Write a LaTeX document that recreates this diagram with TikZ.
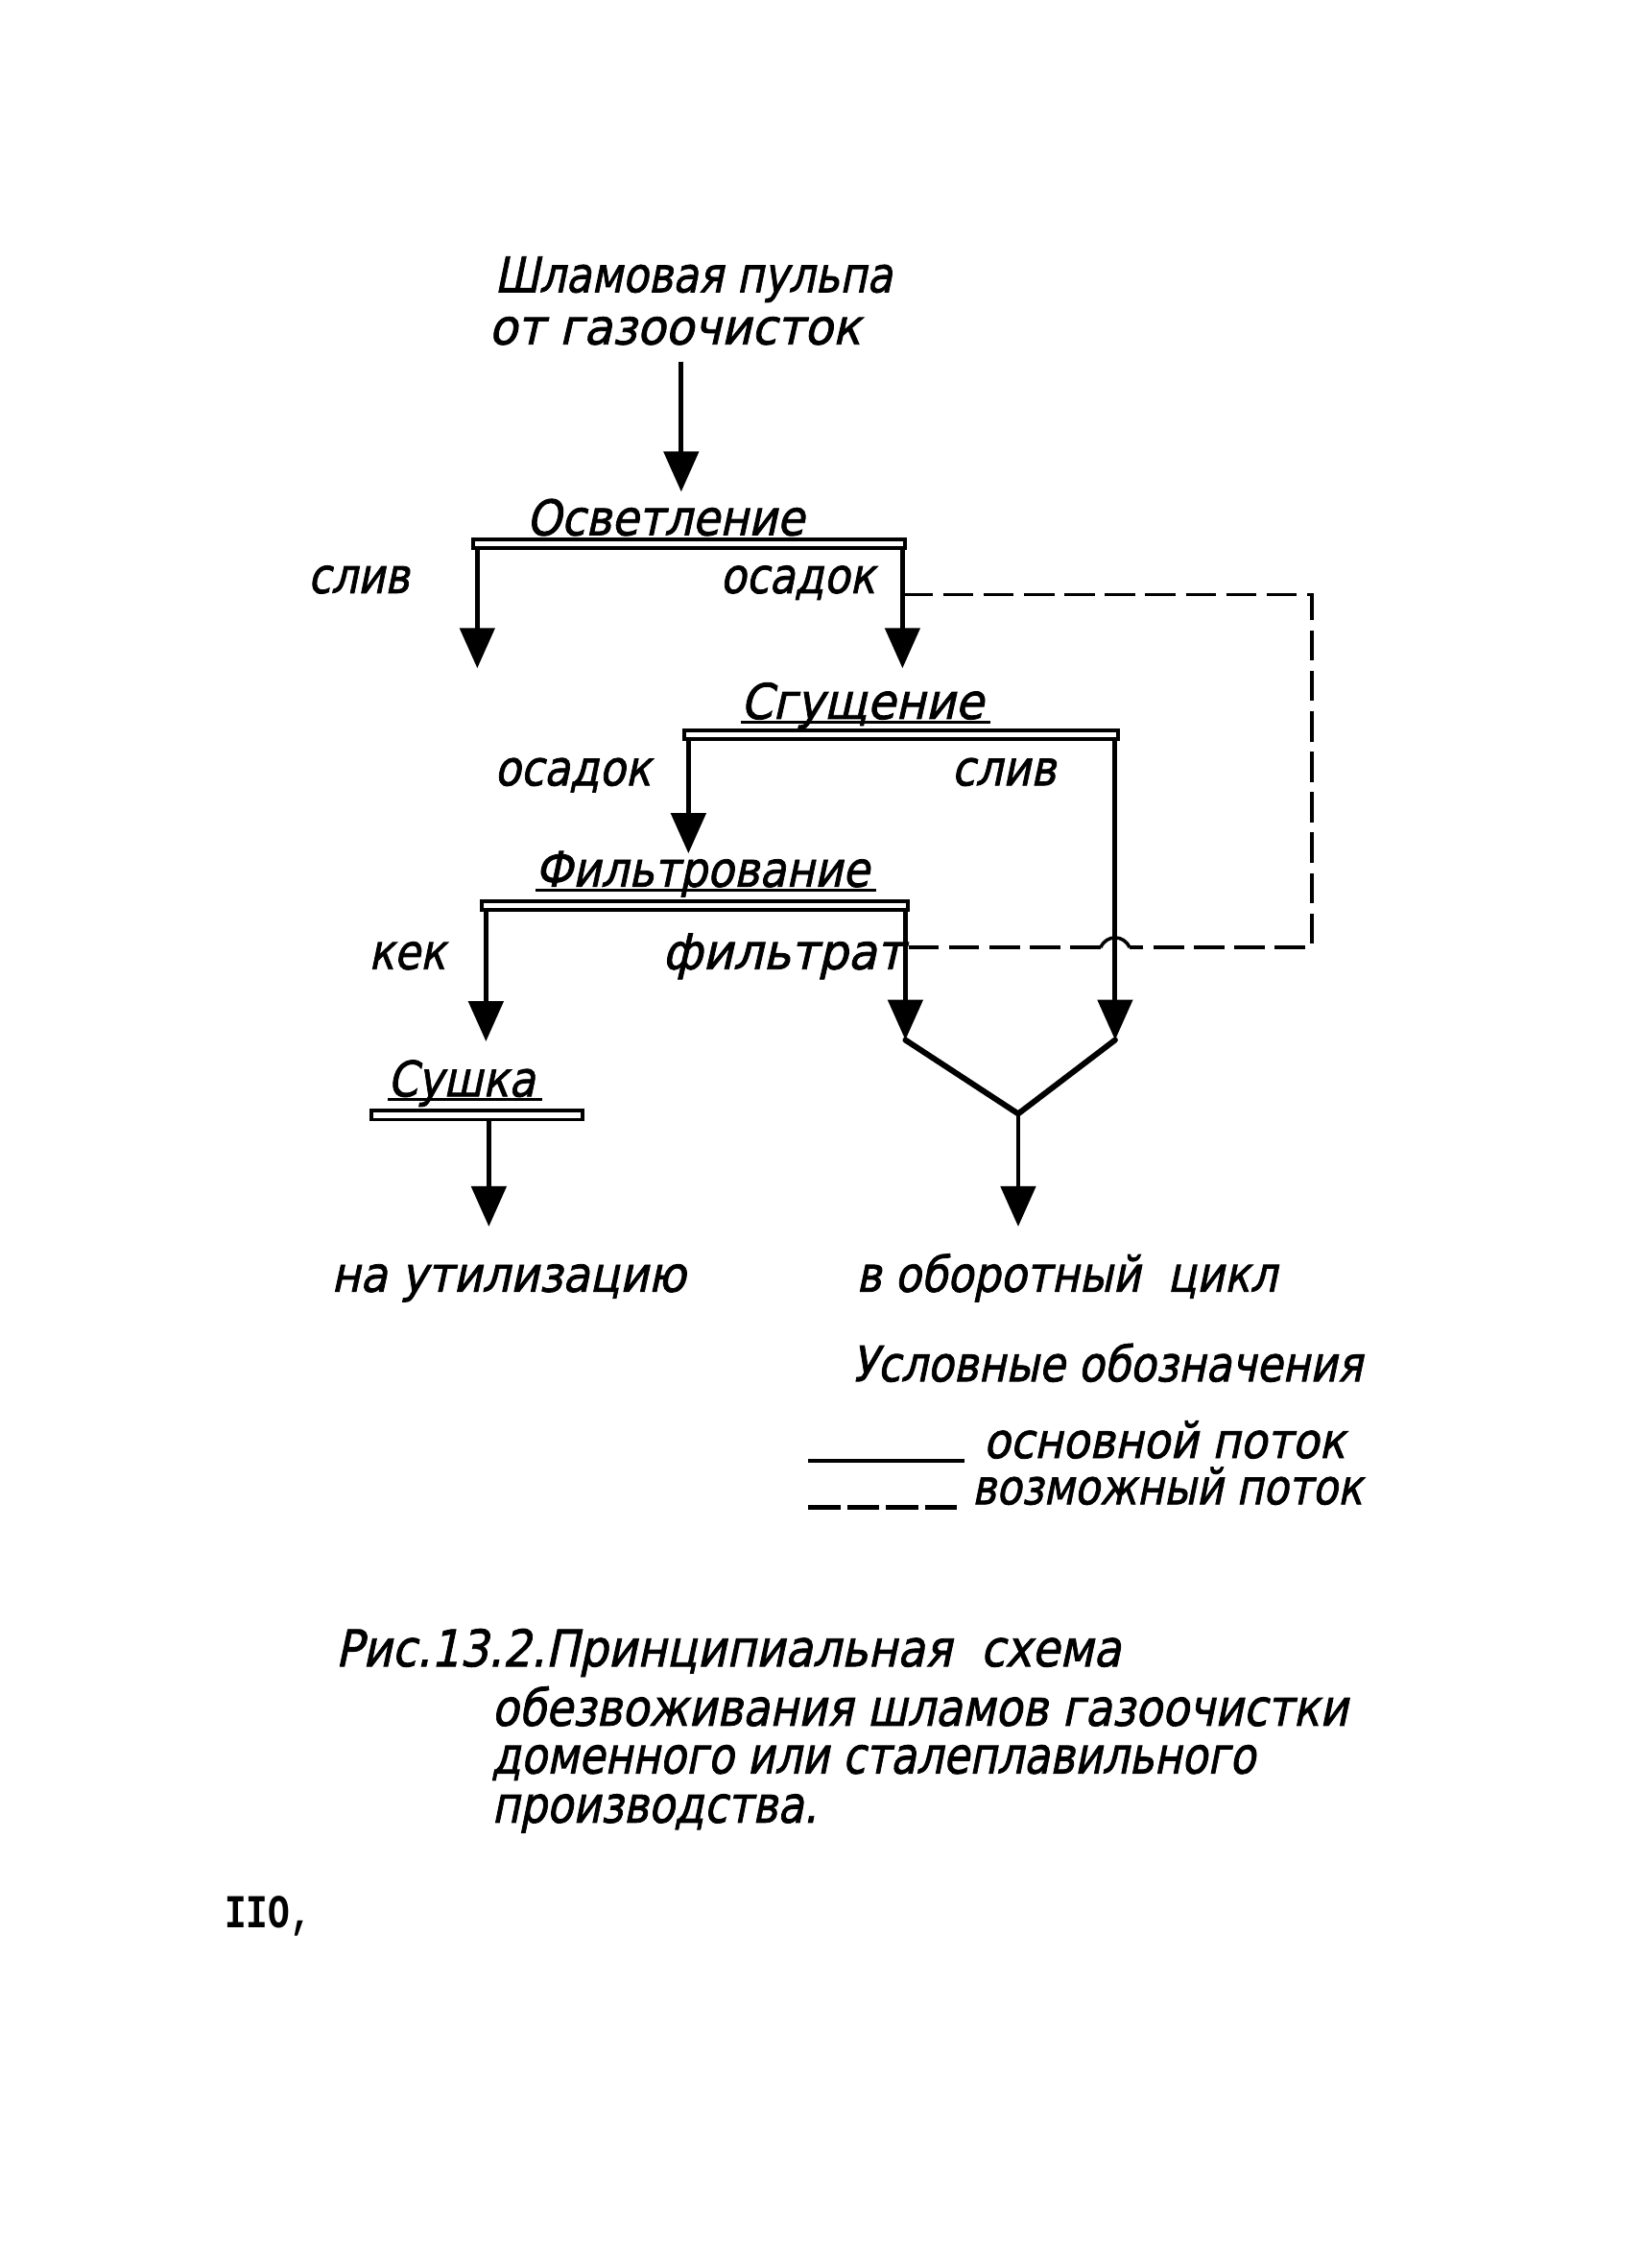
\documentclass[tikz,border=0pt]{standalone}
\usepackage{fontspec}
\usepackage{graphicx}
\setmainfont{DejaVu Sans}
\newfontfamily\hand[FakeBold=1.6,FakeSlant=0.24]{DejaVu Sans}
\newfontfamily\typew{Liberation Mono}
\usetikzlibrary{arrows.meta}
\newdimen\ux \ux=0.01507cm
\newcommand\fitw[2]{\resizebox{#1\ux}{\height}{#2}}
\begin{document}
\begin{tikzpicture}[x=0.01507cm,y=-0.01507cm,
  lbl/.style={anchor=base west,inner sep=0pt,outer sep=0pt,font=\hand\fontsize{14.5}{16}\selectfont},
  captxt/.style={lbl,font=\hand\fontsize{15}{17}\selectfont},
  flow/.style={line width=1.4pt,-{Triangle[width=0.36cm,length=0.42cm]}},
  bar/.style={draw,line width=1.1pt,fill=white},
  uline/.style={line width=0.9pt},
  maybe/.style={line width=1pt,dash pattern=on 9pt off 3pt},
  vjoin/.style={line width=1.7pt,line cap=round,line join=round}
]
\useasboundingbox (0,0) rectangle (1136,1568);

% title
\node[lbl] (t1) at (342,202) {\fitw{275}{Шламовая пульпа}};
\node[lbl] (t2) at (338,238) {\fitw{257}{от газоочисток}};
\coordinate (a0) at (471,250);
\coordinate (a0e) at (471,340);
\draw[flow] (a0) -- (a0e);

% Osvetlenie
\node[lbl] (osv) at (364,370) {\fitw{192}{Осветление}};
\coordinate (osvL) at (330,379);
\coordinate (osvR) at (624,379);
\coordinate (osvLe) at (330,462);
\coordinate (osvRe) at (624,462);
\draw[flow] (osvL) -- (osvLe);
\draw[flow] (osvR) -- (osvRe);
\draw[bar] (327,373) rectangle (626,379);
\node[lbl] (sliv1) at (213,410) {\fitw{70}{слив}};
\node[lbl] (osad1) at (498,410) {\fitw{107}{осадок}};

% Sgushchenie
\node[lbl] (sg) at (512,497) {\fitw{168}{Сгущение}};
\draw[uline] ([yshift=-1pt]sg.base west) -- ([yshift=-1pt,xshift=2pt]sg.base east);
\coordinate (sgL) at (476,511);
\coordinate (sgR) at (771,511);
\coordinate (sgLe) at (476,590);
\coordinate (sgRe) at (771,719);
\draw[flow] (sgL) -- (sgLe);
\draw[flow] (sgR) -- (sgRe);
\draw[bar] (473,505) rectangle (773,511);

\node[lbl] (osad2) at (342,543) {\fitw{108}{осадок}};
\node[lbl] (sliv2) at (658,543) {\fitw{72}{слив}};

% Filtrovanie
\node[lbl] (fl) at (370,613) {\fitw{231}{Фильтрование}};
\draw[uline] ([yshift=-1pt]fl.base west) -- ([yshift=-1pt,xshift=2pt]fl.base east);
\coordinate (flL) at (336,629);
\coordinate (flR) at (626,629);
\coordinate (flLe) at (336,720);
\coordinate (flRe) at (626,719);
\draw[flow] (flL) -- (flLe);
\draw[flow] (flR) -- (flRe);
\draw[bar] (333,623) rectangle (628,629);
\node[lbl] (kek) at (255,670) {\fitw{53}{кек}};
\node[lbl] (filt) at (458,670) {\fitw{167}{фильтрат}};

% dashed possible flow
\coordinate (d1) at (624,411);
\coordinate (d2) at (907,411);
\coordinate (d3) at (907,655);
\coordinate (d4) at (781,655);
\coordinate (d5) at (761,655);
\coordinate (d6) at (626,655);
\draw[maybe] (d1) -- (d2) -- (d3) -- (d4);
\draw[line width=1pt] (d4) .. controls (777,646) and (765,646) .. (d5);
\draw[maybe] (d5) -- (d6);

% V junction
\coordinate (vj) at (704,770);
\coordinate (vje) at (704,848);
\draw[vjoin] (flRe) -- (vj) -- (sgRe);
\draw[flow] (vj) -- (vje);

% Sushka
\node[lbl] (su) at (268,758) {\fitw{102}{Сушка}};
\draw[uline] ([yshift=-1pt]su.base west) -- ([yshift=-1pt,xshift=2pt]su.base east);
\coordinate (suB) at (338,774);
\coordinate (suBe) at (338,848);
\draw[flow] (suB) -- (suBe);
\draw[bar] (257,768) rectangle (403,774);

% outputs
\node[lbl] (util) at (229,893) {\fitw{245}{на утилизацию}};
\node[lbl] (cyc) at (592,893) {\fitw{291}{в оборотный\ \ цикл}};

% legend
\node[lbl] (leg) at (589,955) {\fitw{353}{Условные обозначения}};
\coordinate (l1a) at (559,1010);
\coordinate (l1b) at (667,1010);
\draw[line width=1.3pt] (l1a) -- (l1b);
\node[lbl] (leg1) at (680,1008) {\fitw{250}{основной поток}};
\coordinate (l2a) at (559,1042);
\coordinate (l2b) at (664,1042);
\draw[line width=1.3pt,dash pattern=on 9.5pt off 2pt] (l2a) -- (l2b);
\node[lbl] (leg2) at (672,1040) {\fitw{270}{возможный поток}};

% caption
\node[captxt] (c1) at (232,1152) {\fitw{543}{Рис.13.2.Принципиальная\ \ схема}};
\node[captxt] (c2) at (340,1193) {\fitw{592}{обезвоживания шламов газоочистки}};
\node[captxt] (c3) at (340,1226) {\fitw{528}{доменного или сталеплавильного}};
\node[captxt] (c4) at (340,1260) {\fitw{225}{производства.}};

% page number
\node[anchor=base west,inner sep=0pt,font=\typew\bfseries\fontsize{14}{16}\selectfont] (pg) at (155,1333) {\fitw{60}{IIO,}};
\end{tikzpicture}
\end{document}
